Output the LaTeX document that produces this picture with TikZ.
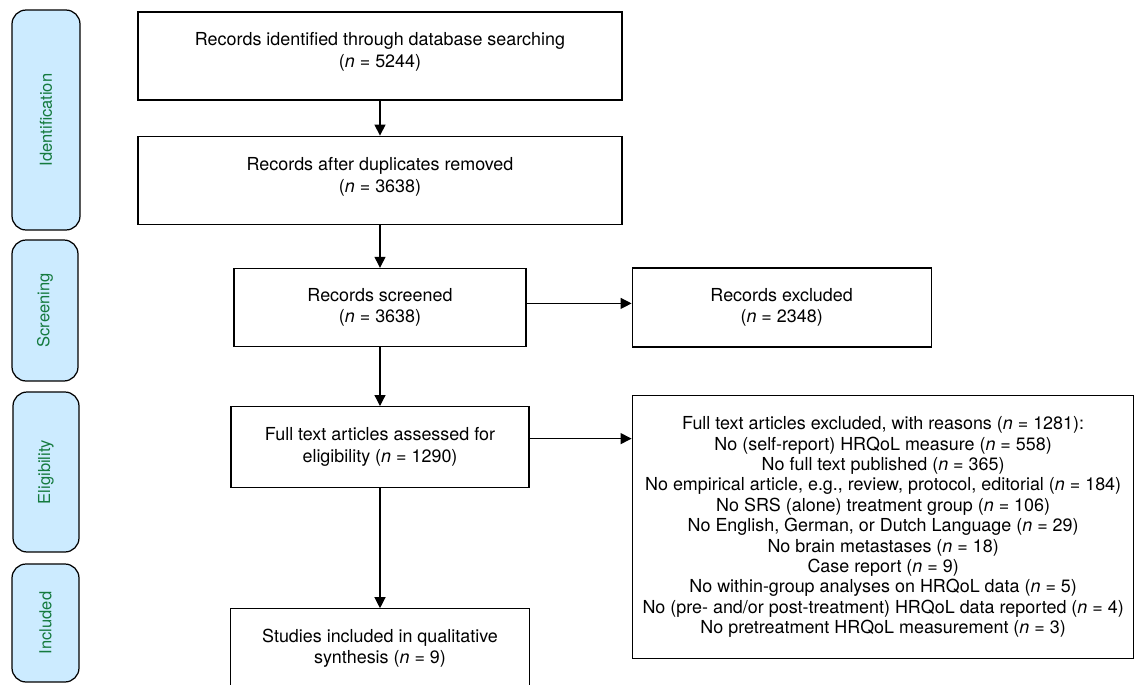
\documentclass[tikz,border=0pt]{standalone}
\usepackage{fontspec}
\setmainfont{TeX Gyre Heros}
\usepackage{tikz}
\usetikzlibrary{arrows.meta,positioning}

\definecolor{phasefill}{RGB}{204,235,255}
\definecolor{phasetext}{RGB}{20,122,62}

\begin{document}
\begin{tikzpicture}[x=0.02cm, y=-0.02cm]
  \tikzstyle{element}=[rectangle, draw, line width=0.7pt, align=center, font=\fontsize{10.2}{12.4}\selectfont]
  \tikzstyle{phase}=[rectangle, rounded corners=8pt, draw, line width=0.7pt, fill=phasefill, text=phasetext, rotate=90, font=\fontsize{9.4}{12}\selectfont]
  \tikzstyle{leadsto}=[-{Triangle[length=0.22cm, width=0.22cm]}, line width=0.7pt]

  \useasboundingbox (0,0) rectangle (1134,684);

  % phase labels on the left
  \node[phase, minimum width=4.4cm, minimum height=1.36cm] (identification) at (46,120) {Identification};
  \node[phase, minimum width=2.82cm, minimum height=1.32cm] (screening) at (45,310.5) {Screening};
  \node[phase, minimum width=3.2cm, minimum height=1.32cm] (eligibility) at (46,472) {Eligibility};
  \node[phase, minimum width=2.36cm, minimum height=1.34cm] (included) at (45.5,623) {Included};

  % = main column =
  \node[element, minimum width=9.68cm, minimum height=1.76cm, text depth=0.25cm] (identified) at (380,56)
      {Records identified through database searching\\(\textit{n} = 5244)};
  \node[element, below=0.7cm of identified, minimum width=9.68cm, minimum height=1.76cm, text depth=0.22cm] (duplicates)
      {Records after duplicates removed\\(\textit{n} = 3638)};
  \node[element, below=0.86cm of duplicates, minimum width=5.84cm, minimum height=1.56cm] (screened)
      {Records screened\\(\textit{n} = 3638)};
  \node[element, below=1.18cm of screened, minimum width=5.96cm, minimum height=1.62cm] (fulltext)
      {Full text articles assessed for\\eligibility (\textit{n} = 1290)};
  \node[element, below=2.4cm of fulltext, minimum width=5.98cm, minimum height=1.58cm] (synthesis)
      {Studies included in qualitative\\synthesis (\textit{n} = 9)};

  % = exclusions =
  \node[element, right=2.1cm of screened, minimum width=5.98cm, minimum height=1.58cm] (recexcluded)
      {Records excluded\\(\textit{n} = 2348)};
  \node[element, right=2.04cm of fulltext.north east, anchor=north west, yshift=0.22cm,
        minimum width=10.04cm, minimum height=5.26cm, font=\fontsize{10.2}{11.6}\selectfont] (fullexcluded)
      {Full text articles excluded, with reasons (\textit{n} = 1281):\\
       No (self-report) HRQoL measure (\textit{n} = 558)\\
       No full text published (\textit{n} = 365)\\
       No empirical article, e.g., review, protocol, editorial (\textit{n} = 184)\\
       No SRS (alone) treatment group (\textit{n} = 106)\\
       No English, German, or Dutch Language (\textit{n} = 29)\\
       No brain metastases (\textit{n} = 18)\\
       Case report (\textit{n} = 9)\\
       No within-group analyses on HRQoL data (\textit{n} = 5)\\
       No (pre- and/or post-treatment) HRQoL data reported (\textit{n} = 4)\\
       No pretreatment HRQoL measurement (\textit{n} = 3)};

  % arrows
  \draw[leadsto] (identified) -- (duplicates);
  \draw[leadsto] (duplicates) -- (screened);
  \draw[leadsto] (screened) -- (fulltext);
  \draw[leadsto] (fulltext) -- (synthesis);
  \draw[leadsto] ([yshift=0.08cm]screened.east) -- ([yshift=0.08cm]screened.east -| recexcluded.west);
  \draw[leadsto] ([yshift=0.17cm]fulltext.east) -- ([yshift=0.17cm]fulltext.east -| fullexcluded.west);
\end{tikzpicture}
\end{document}
